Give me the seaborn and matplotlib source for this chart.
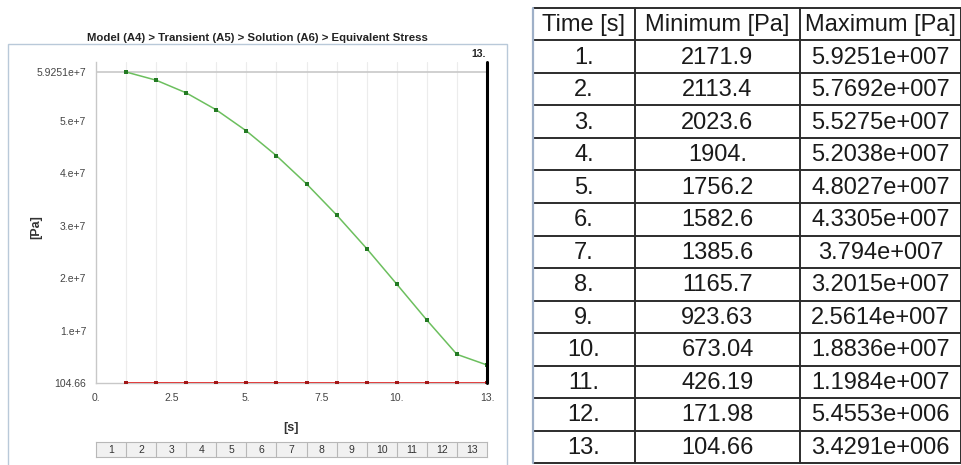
import matplotlib
matplotlib.use("Agg")
import matplotlib.pyplot as plt
import seaborn as sns
import pandas as pd
from matplotlib import font_manager
from matplotlib.patches import Rectangle

# Data
time_s = [1, 2, 3, 4, 5, 6, 7, 8, 9, 10, 11, 12, 13]
min_pa = [2171.9, 2113.4, 2023.6, 1904.0, 1756.2, 1582.6, 1385.6,
          1165.7, 923.63, 673.04, 426.19, 171.98, 104.66]
max_pa = [5.9251e7, 5.7692e7, 5.5275e7, 5.2038e7, 4.8027e7, 4.3305e7, 3.794e7,
          3.2015e7, 2.5614e7, 1.8836e7, 1.1984e7, 5.4553e6, 3.4291e6]

time_labels = ["1.", "2.", "3.", "4.", "5.", "6.", "7.", "8.", "9.", "10.",
               "11.", "12.", "13."]
min_labels = ["2171.9", "2113.4", "2023.6", "1904.", "1756.2", "1582.6",
              "1385.6", "1165.7", "923.63", "673.04", "426.19", "171.98", "104.66"]
max_labels = ["5.9251e+007", "5.7692e+007", "5.5275e+007", "5.2038e+007",
              "4.8027e+007", "4.3305e+007", "3.794e+007", "3.2015e+007",
              "2.5614e+007", "1.8836e+007", "1.1984e+007", "5.4553e+006",
              "3.4291e+006"]
headers = ["Time [s]", "Minimum [Pa]", "Maximum [Pa]"]

y_ticks = [104.66, 1e7, 2e7, 3e7, 4e7, 5e7, 5.9251e7]
y_tick_labels = ["104.66", "1.e+7", "2.e+7", "3.e+7", "4.e+7", "5.e+7", "5.9251e+7"]
x_ticks = [0, 2.5, 5, 7.5, 10, 13]
x_tick_labels = ["0.", "2.5", "5.", "7.5", "10.", "13."]

df = pd.DataFrame({"time": time_s, "min": min_pa, "max": max_pa})

sns.set_style("white")
installed = {f.name for f in font_manager.fontManager.ttflist}
narrow = "Liberation Sans Narrow" if "Liberation Sans Narrow" in installed else "Liberation Sans"
plt.rcParams["font.family"] = [narrow, "DejaVu Sans"]

W, H = 962, 465
fig = plt.figure(figsize=(W / 100, H / 100), dpi=100)
fig.patch.set_facecolor("white")


def box(x0, y0, x1, y1):
    # pixel box (from top-left) -> figure fraction rect
    return [x0 / W, 1 - y1 / H, (x1 - x0) / W, (y1 - y0) / H]


# panel frame
fig.add_artist(Rectangle((8 / W, -0.02), (507 - 8) / W, (465 - 44) / H + 0.02,
                         transform=fig.transFigure, fill=False,
                         ec="#b9c9d9", lw=1.0))

# ---- chart ----
y_top = 6.116e7
ax = fig.add_axes(box(96, 62, 487, 383))
ax.set_xlim(0, 13)
ax.set_ylim(104.66, y_top)

for t in time_s:
    ax.axvline(t, color="#ececec", lw=0.8, zorder=0)
ax.axhline(max_pa[0], color="#c8c8c8", lw=1.2, zorder=0)

sns.lineplot(data=df, x="time", y="max", color="#6cbf5e", lw=1.1, ax=ax, zorder=3)
sns.scatterplot(data=df, x="time", y="max", color="#237a23", marker="s", s=7,
                linewidth=0, ax=ax, zorder=4)
sns.lineplot(data=df, x="time", y="min", color="#e03030", lw=1.3, ax=ax, zorder=3)
sns.scatterplot(data=df, x="time", y="min", color="#a01818", marker="s", s=7,
                linewidth=0, ax=ax, zorder=4)

ax.axvline(time_s[-1], color="black", lw=2.2, zorder=5, clip_on=False)
ax.text(time_s[-1] - 0.05, y_top + 0.05e7, "13.", ha="right", va="bottom",
        fontsize=7.5, fontweight="bold", color="#222222")

ax.set_yticks(y_ticks)
ax.set_yticklabels(y_tick_labels)
ax.set_xticks(x_ticks)
ax.set_xticklabels(x_tick_labels)
ax.tick_params(axis="both", direction="out", length=4, width=0.8, color="#c0c0c0",
               labelsize=7.5, labelcolor="#444444", pad=3)
for s in ["top", "right"]:
    ax.spines[s].set_visible(False)
for s in ["left", "bottom"]:
    ax.spines[s].set_color("#c8c8c8")
    ax.spines[s].set_linewidth(1.0)

ax.set_xlabel("[s]", fontsize=9, fontweight="bold", color="#333333", labelpad=14)
ax.set_ylabel("")
fig.text(36 / W, 1 - 227 / H, "[Pa]", rotation=90, ha="center", va="center",
         fontsize=9, fontweight="bold", color="#333333")
fig.text(257 / W, 1 - 38 / H,
         "Model (A4) > Transient (A5) > Solution (A6) > Equivalent Stress",
         ha="center", va="center", fontsize=8.2, fontweight="bold", color="#222222")

# step strip under the x axis
ax_s = fig.add_axes(box(96, 442, 487, 457))
ax_s.set_facecolor("#f1f1f1")
ax_s.set_xlim(0, 13)
ax_s.set_ylim(0, 1)
for t in time_s[:-1]:
    ax_s.axvline(t, color="#b8b8b8", lw=0.8)
for t in time_s:
    ax_s.text(t - 0.5, 0.5, str(t), ha="center", va="center", fontsize=7.5,
              color="#333333")
ax_s.set_xticks([])
ax_s.set_yticks([])
for s in ax_s.spines.values():
    s.set_color("#b8b8b8")
    s.set_linewidth(0.8)

# ---- table ----
tx0, tx1, ty0, ty1 = 533, 961, 8, 463
col_edges = [tx0, 635, 800, tx1]
n_rows = len(time_labels) + 1
row_h = (ty1 - ty0) / n_rows

at = fig.add_axes([0, 0, 1, 1])
at.set_xlim(0, W)
at.set_ylim(H, 0)
at.axis("off")
at.patch.set_alpha(0)

for i in range(n_rows + 1):
    y = ty0 + i * row_h
    at.plot([tx0, tx1], [y, y], color="#2c2c2c", lw=1.4, solid_capstyle="butt")
at.plot([tx0, tx0], [ty0, ty1], color="#9fb0c8", lw=1.6)
for x in col_edges[1:]:
    at.plot([x, x], [ty0, ty1], color="#2c2c2c", lw=1.4)

cols = [time_labels, min_labels, max_labels]
tfont = ["Liberation Sans", "DejaVu Sans"]
for c in range(3):
    cx = (col_edges[c] + col_edges[c + 1]) / 2
    at.text(cx, ty0 + row_h / 2 + 1, headers[c], ha="center", va="center",
            fontsize=17, family=tfont, color="#1a1a1a")
    for r, lab in enumerate(cols[c]):
        at.text(cx, ty0 + (r + 1.5) * row_h + 1, lab, ha="center", va="center",
                fontsize=17, family=tfont, color="#1a1a1a")

fig.savefig("out.png", dpi=100)
